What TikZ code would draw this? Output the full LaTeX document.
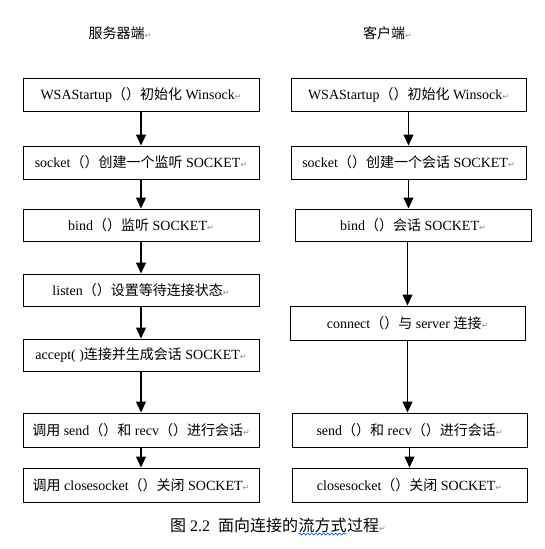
\documentclass[tikz,border=0pt]{standalone}
\usepackage{fontspec}
\setmainfont{Liberation Serif}
\newfontfamily\cjkfont{Noto Sans CJK SC}
\newfontfamily\symfont{DejaVu Sans}
\usetikzlibrary{arrows.meta,decorations.pathmorphing}
\newcommand\zhs[1]{{\cjkfont #1}}
\newcommand\retmark{{\symfont\fontsize{8}{8}\selectfont\color{black!45}↵}}
\begin{document}
\begin{tikzpicture}[x=1pt,y=-1pt,
  box/.style={draw, line width=1pt, minimum height=33pt, inner sep=0pt,
    font=\fontsize{14}{16}\selectfont},
  lbox/.style={box, minimum width=236pt},
  rbox/.style={box, minimum width=235pt},
  head/.style={font=\cjkfont\fontsize{14}{16}\selectfont, inner sep=0pt},
  capt/.style={font=\fontsize{16}{18}\selectfont, inner sep=0pt},
  arr/.style={line width=1.1pt, -{Triangle[length=11pt,width=10pt]}},
  wavy/.style={draw=blue!60!cyan, line width=0.7pt, decorate,
    decoration={snake, amplitude=1pt, segment length=4pt}}]
\useasboundingbox[fill=white] (0,0) rectangle (544,549);

% headers
\node[head] (hs) at (120,33) {服务器端\retmark};
\node[head] (hc) at (387.5,33) {客户端\retmark};

% server column
\node[lbox] (l1) at (141,94.5) {WSAStartup\zhs{（）初始化} Winsock\retmark};
\node[lbox] (l2) at (141,162.5) {socket\zhs{（）创建一个监听} SOCKET\retmark};
\node[lbox, minimum height=32pt] (l3) at (141,225) {bind\zhs{（）监听} SOCKET\retmark};
\node[lbox, minimum height=32pt] (l4) at (141,290) {listen\zhs{（）设置等待连接状态}\retmark};
\node[lbox, minimum height=32pt] (l5) at (141,355) {accept( )\zhs{连接并生成会话} SOCKET\retmark};
\node[lbox, minimum height=34pt] (l6) at (141,430) {\zhs{调用} send\zhs{（）和} recv\zhs{（）进行会话}\retmark};
\node[lbox, minimum height=34pt] (l7) at (141,485) {\zhs{调用} closesocket\zhs{（）关闭} SOCKET\retmark};

% client column
\node[rbox] (r1) at (408.5,94.5) {WSAStartup\zhs{（）初始化} Winsock\retmark};
\node[rbox] (r2) at (408.5,162.5) {socket\zhs{（）创建一个会话} SOCKET\retmark};
\node[box, minimum width=236pt, minimum height=32pt] (r3) at (413,225) {bind\zhs{（）会话} SOCKET\retmark};
\node[rbox, minimum height=34pt] (r4) at (407.5,323) {connect\zhs{（）与} server \zhs{连接}\retmark};
\node[rbox, minimum height=34pt] (r5) at (409.5,430) {send\zhs{（）和} recv\zhs{（）进行会话}\retmark};
\node[rbox, minimum height=34pt] (r6) at (409.5,485) {closesocket\zhs{（）关闭} SOCKET\retmark};

% server arrows
\foreach \a/\b in {l1/l2,l2/l3,l3/l4,l4/l5,l5/l6,l6/l7}
  \draw[arr] (\a.south) -- (\a.south |- \b.north);

% client arrows
\draw[arr] (r1.south) -- (r1.south |- r2.north);
\draw[arr] (r2.south) -- (r2.south |- r3.north);
\draw[arr] (r3.south -| r4.north) -- (r4.north);
\draw[arr] (r4.south) -- (r4.south |- r5.north);
\draw[arr] (r5.south) -- (r5.south |- r6.north);

% caption
\node[capt, anchor=base west] (c1) at (170,531) {\zhs{图} 2.2\ \ \zhs{面向连接的}};
\node[capt, anchor=base west] (c2) at (c1.base east) {\zhs{流方式}};
\node[capt, anchor=base west] (c3) at (c2.base east) {\zhs{过程}\retmark};
\draw[wavy] ([yshift=-3pt]c2.base west) -- ([yshift=-3pt]c2.base east);
\end{tikzpicture}
\end{document}
